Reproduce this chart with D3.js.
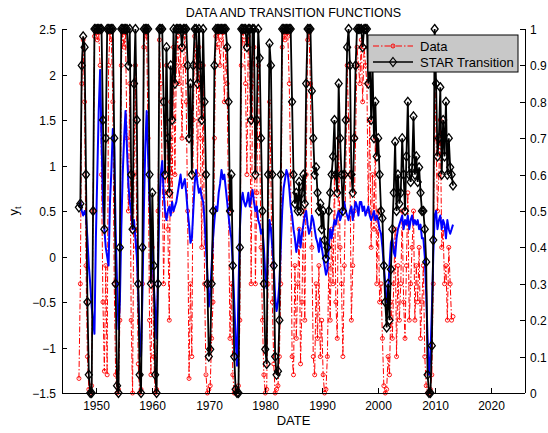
<!DOCTYPE html>
<html>
<head>
<meta charset="utf-8">
<script src="https://cdn.jsdelivr.net/npm/d3@7.9.0/dist/d3.min.js"></script>
<style>
  html, body { margin: 0; padding: 0; background: #fff; }
  svg { display: block; font-family: "Liberation Sans", Arial, Helvetica, sans-serif; }
  .tick-label { font-size: 12px; fill: #000; }
</style>
</head>
<body>
<svg id="chart" width="548" height="433"></svg>
<script>
/* ------------------------------- Data ------------------------------------ */
// quarterly observations, first one at 1947 Q1
const START_YEAR = 1947;
const PER_YEAR = 4;

// y_t (left axis)
const yt = [
  0.55, 0.6, 0.5, 0.45,   0.5, 0.45, 0.2, -0.1,   -0.3, -0.55, -0.7, -0.85,
  0.2, 0.9, 1.6, 2.05,    1.3, 0.6, 0.3, 0.1,     0.0, -0.1, 0.6, 0.95,
  1.4, 1.2, 0.3, -0.3,    -0.8, -0.5, 0.3, 0.9,   1.3, 1.6, 1.2, 0.8,
  0.6, 0.5, 0.3, 0.4,     0.2, 0.0, -0.4, -0.9,   -1.1, -0.4, 0.5, 1.2,
  1.6, 1.1, 0.6, 0.3,     0.1, -0.3, -0.6, -0.9,  -0.2, 0.6, 0.9, 1.05,
  0.7, 0.5, 0.4, 0.5,     0.55, 0.45, 0.6, 0.5,   0.55, 0.6, 0.7, 0.8,
  0.9, 0.75, 0.8, 0.85,   0.7, 0.5, 0.35, 0.15,   0.2, 0.5, 0.8, 0.95,
  0.8, 0.7, 0.75, 0.65,   0.6, 0.4, 0.1, -0.2,    -0.55, -0.4, -0.1, 0.2,
  0.4, 0.55, 0.5, 0.7,    0.8, 0.95, 0.85, 0.9,   0.75, 0.6, 0.45, 0.3,
  0.2, -0.1, -0.5, -0.9,  -1.2, -0.4, 0.3, 0.6,   0.7, 0.6, 0.55, 0.6,
  0.7, 0.55, 0.65, 0.73,  0.6, 0.5, 0.55, 0.4,    0.35, 0.25, 0.3, 0.1,
  -0.2, -0.35, 0.1, 0.4,  0.3, 0.1, -0.1, -0.45,  -0.6, -0.5, -0.3, 0.1,
  0.5, 0.75, 0.85, 0.95,  0.9, 0.75, 0.55, 0.45,  0.3, 0.2, 0.05, 0.15,
  0.3, 0.1, 0.25, 0.35,   0.45, 0.5, 0.35, 0.25,  0.3, 0.45, 0.4, 0.3,
  0.2, 0.15, 0.05, 0.2,   0.1, 0.0, -0.1, -0.2,   -0.15, 0.1, 0.3, 0.2,
  0.3, 0.4, 0.35, 0.45,   0.5, 0.4, 0.45, 0.55,   0.6, 0.5, 0.45, 0.4,
  0.5, 0.55, 0.4, 0.5,    0.6, 0.55, 0.45, 0.6,   0.6, 0.5, 0.55, 0.45,
  0.5, 0.55, 0.45, 0.4,   0.45, 0.5, 0.4, 0.45,   0.4, 0.3, 0.25, 0.1,
  -0.1, -0.3, -0.5, -0.4, -0.1, 0.15, 0.2, 0.05,  0.0, 0.2, 0.3, 0.35,
  0.4, 0.45, 0.3, 0.4,    0.35, 0.45, 0.3, 0.4,   0.45, 0.35, 0.4, 0.35,
  0.4, 0.3, 0.35, 0.2,    0.2, 0.0, -0.4, -0.9,   -1.3, -1.1, -0.6, 0.0,
  0.45, 0.5, 0.3, 0.4,    0.45, 0.3, 0.4, 0.35,   0.2, 0.4, 0.3, 0.25,
  0.3, 0.35
];

// "Data" series (right axis)
const dataSeries = [
  0.04, 0.3, 0.85, 0.97,  0.8, 0.35, 0.1, 0.01,   0.0, 0.02, 0.5, 0.98,
  0.99, 0.97, 0.99, 0.9,  0.6, 0.25, 0.06, 0.35,  0.05, 0.9, 0.99, 0.97,
  0.8, 0.3, 0.05, 0.0,    0.01, 0.2, 0.9, 0.99,   0.95, 0.99, 0.7, 0.5,
  0.85, 0.2, 0.0, 0.6,    0.9, 0.4, 0.08, 0.0,    0.01, 0.3, 0.95, 0.99,
  0.98, 0.7, 0.2, 0.05,   0.4, 0.1, 0.0, 0.01,    0.5, 0.97, 0.85, 0.6,
  0.3, 0.55, 0.9, 0.45,   0.2, 0.8, 0.5, 0.95,    0.6, 0.9, 0.98, 0.85,
  0.95, 0.7, 0.9, 0.98,   0.8, 0.5, 0.04, 0.3,    0.1, 0.75, 0.98, 0.9,
  0.6, 0.95, 0.7, 0.4,    0.9, 0.3, 0.05, 0.0,    0.01, 0.02, 0.15, 0.25,
  0.7, 0.98, 0.95, 0.99,  0.9, 0.97, 0.99, 0.8,   0.95, 0.85, 0.5, 0.15,
  0.3, 0.05, 0.0, 0.0,    0.01, 0.02, 0.2, 0.9,   0.99, 0.97, 0.85, 0.6,
  0.98, 0.9, 0.3, 0.85,   0.95, 0.3, 0.55, 0.9,   0.7, 0.4, 0.2, 0.05,
  0.0, 0.01, 0.3, 0.8,    0.6, 0.25, 0.08, 0.0,   0.01, 0.02, 0.1, 0.3,
  0.95, 0.99, 0.97, 0.99, 0.98, 0.85, 0.6, 0.1,   0.05, 0.35, 0.15, 0.3,
  0.45, 0.08, 0.25, 0.5,  0.2, 0.6, 0.97, 0.99,   0.85, 0.4, 0.1, 0.05,
  0.3, 0.15, 0.35, 0.1,   0.2, 0.05, 0.0, 0.01,   0.1, 0.35, 0.2, 0.45,
  0.3, 0.6, 0.25, 0.15,   0.7, 0.4, 0.3, 0.1,     0.35, 0.6, 0.9, 0.75,
  0.6, 0.2, 0.35, 0.5,    0.7, 0.95, 0.9, 0.85,   0.97, 0.8, 0.95, 0.9,
  0.85, 0.5, 0.75, 0.4,   0.6, 0.45, 0.7, 0.3,    0.5, 0.25, 0.3, 0.15,
  0.02, 0.0, 0.01, 0.1,   0.05, 0.25, 0.15, 0.3,  0.45, 0.1, 0.35, 0.2,
  0.3, 0.5, 0.25, 0.15,   0.35, 0.55, 0.2, 0.3,   0.4, 0.5, 0.2, 0.35,
  0.25, 0.4, 0.15, 0.25,  0.35, 0.1, 0.02, 0.0,   0.0, 0.01, 0.05, 0.3,
  0.9, 0.7, 0.5, 0.6,     0.75, 0.4, 0.45, 0.3,   0.35, 0.2, 0.4, 0.3,
  0.2, 0.21
];

// STAR transition function (right axis)
const starTransition = [
  0.51, 0.52, 0.9, 0.98,  0.95, 0.6, 0.25, 0.05,  0.0, 0.0, 0.5, 1.0,
  1.0, 1.0, 1.0, 1.0,     1.0, 0.75, 0.45, 0.7,   1.0, 1.0, 1.0, 1.0,
  1.0, 0.7, 0.3, 0.02,    0.0, 0.4, 1.0, 1.0,     1.0, 1.0, 1.0, 0.9,
  1.0, 0.6, 0.45, 0.85,   1.0, 0.75, 0.3, 0.05,   0.0, 0.4, 1.0, 1.0,
  1.0, 1.0, 0.6, 0.3,     0.55, 0.35, 0.05, 0.0,  0.3, 1.0, 1.0, 1.0,
  0.8, 0.6, 0.95, 0.7,    0.55, 0.9, 0.75, 1.0,   0.85, 1.0, 1.0, 1.0,
  1.0, 0.95, 1.0, 1.0,    1.0, 0.9, 0.7, 0.85,    0.6, 0.9, 1.0, 1.0,
  0.85, 1.0, 0.9, 0.75,   1.0, 0.8, 0.6, 0.3,     0.1, 0.12, 0.3, 0.5,
  0.9, 1.0, 1.0, 1.0,     1.0, 1.0, 1.0, 1.0,     1.0, 0.95, 0.8, 0.5,
  0.6, 0.35, 0.1, 0.01,   0.0, 0.0, 0.4, 1.0,     1.0, 1.0, 1.0, 0.95,
  1.0, 1.0, 0.75, 1.0,    1.0, 0.6, 0.75, 1.0,    0.92, 0.7, 0.5, 0.3,
  0.12, 0.08, 0.6, 0.96,  0.9, 0.6, 0.35, 0.1,    0.05, 0.06, 0.2, 0.6,
  1.0, 1.0, 1.0, 1.0,     1.0, 1.0, 1.0, 0.8,     0.6, 0.52, 0.55, 0.5,
  0.58, 0.5, 0.55, 0.6,   0.52, 0.85, 1.0, 1.0,   1.0, 0.83, 0.7, 0.6,
  0.62, 0.55, 0.5, 0.52,  0.45, 0.5, 0.42, 0.37,  0.4, 0.5, 0.55, 0.6,
  0.65, 0.75, 0.6, 0.55,  0.85, 0.7, 0.6, 0.5,    0.6, 0.75, 0.95, 1.0,
  0.9, 0.6, 0.55, 0.7,    0.9, 1.0, 1.0, 1.0,     1.0, 0.95, 1.0, 1.0,
  1.0, 0.85, 0.95, 0.75,  0.9, 0.7, 0.8, 0.65,    0.7, 0.6, 0.5, 0.48,
  0.35, 0.25, 0.18, 0.3,  0.2, 0.34, 0.45, 0.55,  0.69, 0.5, 0.6, 0.52,
  0.55, 0.7, 0.6, 0.5,    0.65, 0.8, 0.6, 0.58,   0.62, 0.76, 0.6, 0.65,
  0.58, 0.62, 0.55, 0.5,  0.5, 0.45, 0.36, 0.05,  0.0, 0.0, 0.13, 0.42,
  1.0, 0.85, 0.65, 0.7,   0.84, 0.6, 0.75, 0.65,  0.8, 0.6, 0.7, 0.62,
  0.6, 0.57
];

const xTicks = [1950, 1960, 1970, 1980, 1990, 2000, 2010, 2020];
const leftTicks = [-1.5, -1, -0.5, 0, 0.5, 1, 1.5, 2, 2.5];
const rightTicks = [0, 0.1, 0.2, 0.3, 0.4, 0.5, 0.6, 0.7, 0.8, 0.9, 1];
const legendLabels = ["Data", "STAR Transition"];

/* ------------------------------ Layout ----------------------------------- */
const M = { left: 62, right: 525, top: 29, bottom: 393 };
const svg = d3.select("#chart");

const x = d3.scaleLinear().domain([1944, 2026]).range([M.left, M.right]);
const yL = d3.scaleLinear().domain([-1.5, 2.5]).range([M.bottom, M.top]);
const yR = d3.scaleLinear().domain([0, 1]).range([M.bottom, M.top]);

const dateOf = (i) => START_YEAR + i / PER_YEAR;
const fmt = (v) => String(v).replace("-", "\u2212");

/* ------------------------------ Series ----------------------------------- */
// red data: dash-dot line with small open circles
const redLine = d3.line().x((d, i) => x(dateOf(i))).y((d) => yR(d));
svg.append("path")
  .datum(dataSeries)
  .attr("d", redLine)
  .attr("fill", "none")
  .attr("stroke", "#ff0000")
  .attr("stroke-width", 1)
  .attr("stroke-dasharray", "6,2,1.5,2");
svg.append("g")
  .selectAll("circle")
  .data(dataSeries)
  .join("circle")
  .attr("cx", (d, i) => x(dateOf(i)))
  .attr("cy", (d) => yR(d))
  .attr("r", 2)
  .attr("fill", "none")
  .attr("stroke", "#ff0000")
  .attr("stroke-width", 0.9);

// blue y_t line on the left axis
const blueLine = d3.line().x((d, i) => x(dateOf(i))).y((d) => yL(d));
svg.append("path")
  .datum(yt)
  .attr("d", blueLine)
  .attr("fill", "none")
  .attr("stroke", "#0000ff")
  .attr("stroke-width", 2)
  .attr("stroke-linejoin", "round");

// black STAR transition with open diamonds
const blackLine = d3.line().x((d, i) => x(dateOf(i))).y((d) => yR(d));
svg.append("path")
  .datum(starTransition)
  .attr("d", blackLine)
  .attr("fill", "none")
  .attr("stroke", "#000")
  .attr("stroke-width", 1.8);
const diamond = "M0,-4.5L3.5,0L0,4.5L-3.5,0Z";
svg.append("g")
  .selectAll("path")
  .data(starTransition)
  .join("path")
  .attr("transform", (d, i) => `translate(${x(dateOf(i))},${yR(d)})`)
  .attr("d", diamond)
  .attr("fill", "none")
  .attr("stroke", "#000")
  .attr("stroke-width", 1.3);

/* ------------------------------- Axes ------------------------------------ */
const axes = svg.append("g").attr("stroke", "#000").attr("stroke-width", 1);
axes.append("line").attr("x1", M.left).attr("x2", M.right).attr("y1", M.bottom + 0.5).attr("y2", M.bottom + 0.5);
axes.append("line").attr("x1", M.left + 0.5).attr("x2", M.left + 0.5).attr("y1", M.top).attr("y2", M.bottom);
axes.append("line").attr("x1", M.right + 0.5).attr("x2", M.right + 0.5).attr("y1", M.top).attr("y2", M.bottom);

const TICK = 5;
xTicks.forEach((t) => {
  const px = Math.round(x(t)) + 0.5;
  axes.append("line").attr("x1", px).attr("x2", px).attr("y1", M.bottom).attr("y2", M.bottom - TICK);
  svg.append("text").attr("class", "tick-label")
    .attr("x", px).attr("y", M.bottom + 17).attr("text-anchor", "middle").text(t);
});
leftTicks.forEach((t) => {
  const py = Math.round(yL(t)) + 0.5;
  axes.append("line").attr("x1", M.left).attr("x2", M.left + TICK).attr("y1", py).attr("y2", py);
  svg.append("text").attr("class", "tick-label")
    .attr("x", M.left - 6).attr("y", py + 4).attr("text-anchor", "end").text(fmt(t));
});
rightTicks.forEach((t) => {
  const py = Math.round(yR(t)) + 0.5;
  axes.append("line").attr("x1", M.right - TICK).attr("x2", M.right).attr("y1", py).attr("y2", py);
  svg.append("text").attr("class", "tick-label")
    .attr("x", M.right + 5).attr("y", py + 4).attr("text-anchor", "start").text(t);
});

/* ------------------------------ Labels ----------------------------------- */
const midX = (M.left + M.right) / 2;
svg.append("text").attr("x", midX).attr("y", 17).attr("text-anchor", "middle")
  .attr("font-size", 12.5).text("DATA AND TRANSITION FUNCTIONS");
svg.append("text").attr("x", midX).attr("y", 425).attr("text-anchor", "middle")
  .attr("font-size", 13).text("DATE");
const yl = svg.append("text")
  .attr("transform", `translate(18,${(M.top + M.bottom) / 2}) rotate(-90)`)
  .attr("text-anchor", "middle").attr("font-size", 13);
yl.append("tspan").text("y");
yl.append("tspan").attr("font-size", 9).attr("dy", 3).text("t");

/* ------------------------------ Legend ----------------------------------- */
const lg = svg.append("g").attr("transform", "translate(368,35)");
lg.append("rect").attr("width", 150).attr("height", 37)
  .attr("fill", "#c8c8c8").attr("stroke", "#000").attr("stroke-width", 1);

const row1 = lg.append("g").attr("transform", "translate(0,11)");
row1.append("line").attr("x1", 5).attr("x2", 45).attr("y1", 0).attr("y2", 0)
  .attr("stroke", "#ff0000").attr("stroke-dasharray", "6,2,1.5,2");
row1.append("circle").attr("cx", 25).attr("cy", 0).attr("r", 2)
  .attr("fill", "none").attr("stroke", "#ff0000");
row1.append("text").attr("x", 52).attr("y", 4.5).attr("font-size", 13).text(legendLabels[0]);

const row2 = lg.append("g").attr("transform", "translate(0,27)");
row2.append("line").attr("x1", 5).attr("x2", 45).attr("y1", 0).attr("y2", 0)
  .attr("stroke", "#000").attr("stroke-width", 1.5);
row2.append("path").attr("transform", "translate(25,0)").attr("d", diamond)
  .attr("fill", "none").attr("stroke", "#000").attr("stroke-width", 1.2);
row2.append("text").attr("x", 52).attr("y", 4.5).attr("font-size", 13).text(legendLabels[1]);
</script>
</body>
</html>
